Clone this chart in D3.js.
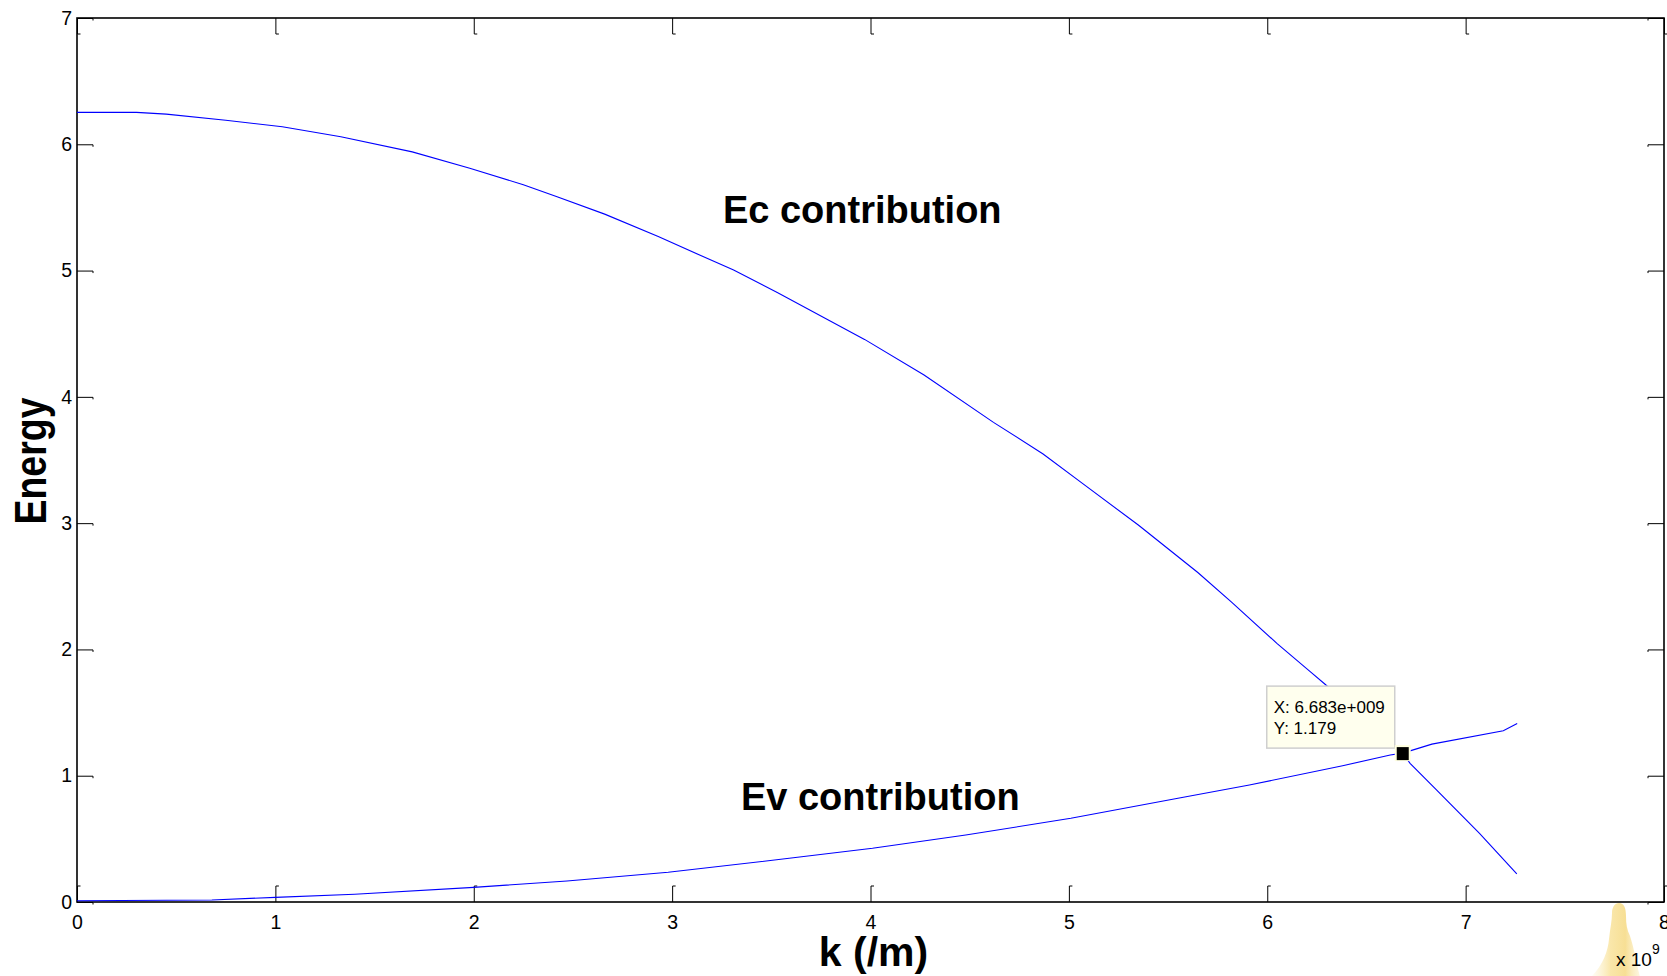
<!DOCTYPE html>
<html>
<head>
<meta charset="utf-8">
<script src="https://cdn.jsdelivr.net/npm/d3@7"></script>
<style>
  html, body { margin: 0; padding: 0; background: #fff; }
  svg { display: block; font-family: "Liberation Sans", Arial, sans-serif; }
</style>
</head>
<body>
<div id="chart"></div>
<script>
// k in units of 1e9 /m, as on the axis
var kEc = [0, 0.30, 0.45, 0.75, 1.035, 1.33, 1.69, 1.98, 2.25, 2.42, 2.66, 2.93, 3.15, 3.31, 3.53, 3.97, 4.27, 4.62, 4.87, 5.07, 5.35, 5.65, 5.82, 6.05, 6.215, 6.29, 6.683, 6.72, 6.853, 7.07, 7.258]
var ec  = [6.253, 6.253, 6.239, 6.19, 6.139, 6.06, 5.94, 5.81, 5.68, 5.585, 5.447, 5.27, 5.115, 5.004, 4.827, 4.455, 4.173, 3.798, 3.548, 3.313, 2.985, 2.609, 2.374, 2.046, 1.826, 1.726, 1.179, 1.098, 0.887, 0.543, 0.222]

var kEv = [0, 0.68, 1.00, 1.40, 2.00, 2.47, 2.98, 3.59, 4.01, 4.48, 5.01, 5.55, 5.91, 6.38, 6.62, 6.683, 6.83, 7.19, 7.26]
var ev  = [0.010, 0.016, 0.037, 0.061, 0.116, 0.166, 0.235, 0.346, 0.425, 0.530, 0.663, 0.821, 0.926, 1.079, 1.164, 1.179, 1.25, 1.356, 1.413]

var xTicks = [0, 1, 2, 3, 4, 5, 6, 7, 8]
var yTicks = [0, 1, 2, 3, 4, 5, 6, 7]

var tipK = 6.683, tipE = 1.179

var margin = { top: 18, right: 3, bottom: 74, left: 77 },
  W = 1667, H = 976,
  width = W - margin.left - margin.right,
  height = H - margin.top - margin.bottom;

var svg = d3.select("#chart").append("svg")
  .attr("width", W)
  .attr("height", H);

svg.append("rect").attr("width", W).attr("height", H).attr("fill", "#fff");

var g = svg.append("g")
  .attr("transform", "translate(" + margin.left + "," + margin.top + ")");

var x = d3.scaleLinear().domain([0, 8]).range([0, width]);
var y = d3.scaleLinear().domain([0, 7]).range([height, 0]);

var tickLen = 16;

// axes, ticks pointing inward like matlab
var xb = g.append("g")
  .attr("transform", "translate(0," + height + ")")
  .call(d3.axisBottom(x).tickValues(xTicks).tickSizeInner(-tickLen).tickSizeOuter(0).tickPadding(13.5).tickFormat(d3.format("d")));
var xt = g.append("g")
  .call(d3.axisTop(x).tickValues(xTicks).tickSizeInner(-tickLen).tickSizeOuter(0).tickFormat(""));
var yl = g.append("g")
  .call(d3.axisLeft(y).tickValues(yTicks).tickSizeInner(-tickLen).tickSizeOuter(0).tickPadding(5).tickFormat(d3.format("d")));
var yr = g.append("g")
  .attr("transform", "translate(" + width + ",0)")
  .call(d3.axisRight(y).tickValues(yTicks).tickSizeInner(-tickLen).tickSizeOuter(0).tickFormat(""));

[xb, xt, yl, yr].forEach(function (a) {
  a.select(".domain").remove();
  a.selectAll(".tick line").attr("stroke", "#000").attr("stroke-width", 1);
  a.selectAll("text")
    .attr("font-size", 19.5)
    .attr("fill", "#000")
    .attr("font-family", "'Liberation Sans', Arial, sans-serif");
});

// little serifs at the tick ends
xb.selectAll(".tick").append("line")
  .attr("x1", 0).attr("x2", 3).attr("y1", -tickLen).attr("y2", -tickLen)
  .attr("stroke", "#000");
xt.selectAll(".tick").append("line")
  .attr("x1", 0).attr("x2", 3).attr("y1", tickLen).attr("y2", tickLen)
  .attr("stroke", "#000");
yl.selectAll(".tick").append("line")
  .attr("x1", tickLen).attr("x2", tickLen).attr("y1", 0).attr("y2", 2)
  .attr("stroke", "#000");
yr.selectAll(".tick").append("line")
  .attr("x1", -tickLen).attr("x2", -tickLen).attr("y1", 0).attr("y2", 2)
  .attr("stroke", "#000");

// frame
g.append("rect")
  .attr("width", width)
  .attr("height", height)
  .attr("fill", "none")
  .attr("stroke", "#000")
  .attr("stroke-width", 1.6);

// curves
var line = d3.line()
  .x(function (d) { return x(d[0]); })
  .y(function (d) { return y(d[1]); });

var ecData = d3.zip(kEc, ec);
var evData = d3.zip(kEv, ev);

g.append("path").datum(ecData)
  .attr("d", line)
  .attr("fill", "none")
  .attr("stroke", "#0000ff")
  .attr("stroke-width", 1.1);

g.append("path").datum(evData)
  .attr("d", line)
  .attr("fill", "none")
  .attr("stroke", "#0000ff")
  .attr("stroke-width", 1.1);

// annotations
g.append("text")
  .attr("x", x(3.256)).attr("y", y(5.376))
  .attr("font-size", 38).attr("font-weight", "bold")
  .text("Ec contribution");
g.append("text")
  .attr("x", x(3.347)).attr("y", y(0.727))
  .attr("font-size", 38).attr("font-weight", "bold")
  .text("Ev contribution");

// data tip
var tx = x(tipK), ty = y(tipE);
var tip = g.append("g").attr("transform", "translate(" + tx + "," + ty + ")");
tip.append("rect")
  .attr("x", -136).attr("y", -67)
  .attr("width", 128).attr("height", 62)
  .attr("fill", "#ffffee")
  .attr("stroke", "#cfcfcf")
  .attr("stroke-width", 1.5);
tip.append("text")
  .attr("x", -129).attr("y", -40)
  .attr("font-size", 17)
  .text("X: " + tipK.toFixed(3) + "e+009");
tip.append("text")
  .attr("x", -129).attr("y", -19)
  .attr("font-size", 17)
  .text("Y: " + tipE.toFixed(3));
tip.append("rect")
  .attr("x", -8).attr("y", -8).attr("width", 16).attr("height", 16)
  .attr("fill", "#ffffe0");
tip.append("rect")
  .attr("x", -6).attr("y", -6).attr("width", 12).attr("height", 13)
  .attr("fill", "#000");

// axis labels
svg.append("text")
  .attr("x", margin.left + width / 2 + 3)
  .attr("y", 966)
  .attr("text-anchor", "middle")
  .attr("font-size", 41).attr("font-weight", "bold")
  .text("k (/m)");

svg.append("text")
  .attr("transform", "translate(46," + (margin.top + height / 2 + 1) + ") rotate(-90)")
  .attr("text-anchor", "middle")
  .attr("font-size", 45).attr("font-weight", "bold")
  .attr("textLength", 127)
  .attr("lengthAdjust", "spacingAndGlyphs")
  .text("Energy");

// pale yellow smudge behind the exponent
var defs = svg.append("defs");
var grad = defs.append("linearGradient").attr("id", "blob").attr("x1", 0).attr("x2", 1).attr("y1", 0).attr("y2", 0);
grad.append("stop").attr("offset", "0%").attr("stop-color", "#fbeab0").attr("stop-opacity", 0.1);
grad.append("stop").attr("offset", "40%").attr("stop-color", "#f7dc85").attr("stop-opacity", 0.7);
grad.append("stop").attr("offset", "70%").attr("stop-color", "#f5d77a").attr("stop-opacity", 0.8);
grad.append("stop").attr("offset", "100%").attr("stop-color", "#f9e6a8").attr("stop-opacity", 0.35);

svg.append("path")
  .attr("transform", "translate(" + (margin.left + x(8) - 45) + "," + (margin.top + y(0) + 1) + ")")
  .attr("d", "M0 0 C5 0 7 5 7 13 C7 21 8 27 11 33 C15 45 17 58 21 74 L-28 74 C-16 62 -11 48 -10 36 C-9 26 -7 18 -7 10 C-7 4 -4 0 0 0 Z")
  .attr("fill", "url(#blob)");

// exponent
var ex = svg.append("text")
  .attr("x", 1616).attr("y", 966)
  .attr("font-size", 19);
ex.append("tspan").text("x 10");
ex.append("tspan").attr("dy", -12).attr("font-size", 14).text("9");
</script>
</body>
</html>
